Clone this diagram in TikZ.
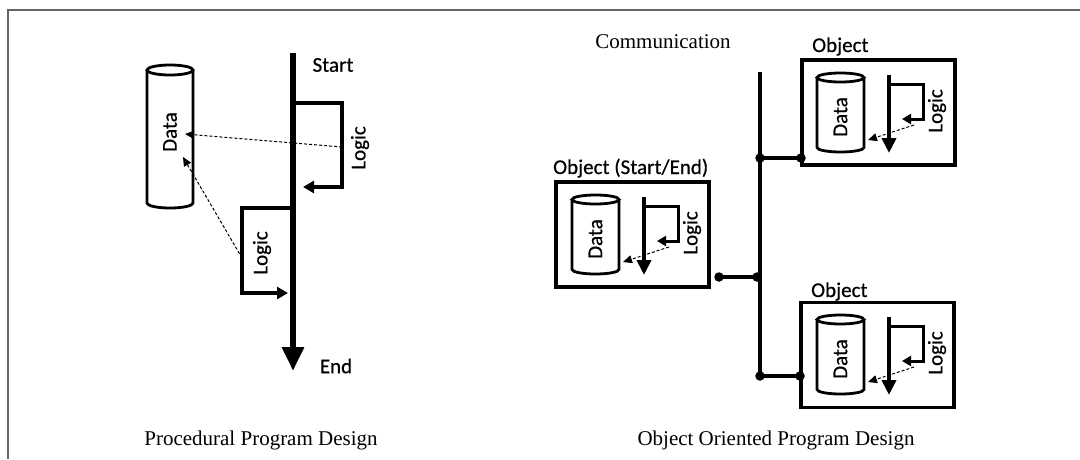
\documentclass[tikz,border=0pt]{standalone}
\usepackage{fontspec}
\setmainfont{Liberation Serif}
\newfontfamily\lblfont[FakeBold=0.6]{Carlito}
\usetikzlibrary{arrows.meta,calc}

\tikzset{
  lbl/.style={font=\lblfont\fontsize{21}{24}\selectfont, inner sep=0pt},
  vlbl/.style={lbl, rotate=90},
  captxt/.style={font=\fontsize{21}{24}\selectfont, inner sep=0pt, anchor=base},
  spine/.style={line width=6.5pt, -{Triangle[length=24pt,width=21pt]}},
  loopline/.style={line width=3.8pt, -{Triangle[length=11pt,width=12pt]}},
  minispine/.style={line width=4.5pt, -{Triangle[length=15pt,width=14pt]}},
  miniloop/.style={line width=3pt, -{Triangle[length=9pt,width=10pt]}},
  cylline/.style={line width=2.8pt},
  dataflow/.style={line width=1pt, dash pattern=on 3pt off 2pt, -{Triangle[length=9pt,width=8pt]}},
  objbox/.style={draw, line width=3.5pt, minimum width=153pt, minimum height=105pt, inner sep=0pt},
  busline/.style={line width=3.5pt},
  joint/.style={circle, fill, inner sep=0pt, minimum size=9.5pt},
  frameline/.style={draw=black!60, line width=1.2pt}
}

% drum: centre x, top-ellipse centre y, bottom-arc centre y, x radius, y radius
\newcommand\drawdrum[5]{%
  \draw[cylline] (#1,#2) ellipse[x radius=#4pt, y radius=#5pt];
  \draw[cylline] ({#1-#4},#2) -- ({#1-#4},#3)
    arc[start angle=180, end angle=360, x radius=#4pt, y radius=#5pt]
    -- ({#1+#4},#2);
}

% contents of an object box, coordinates relative to its top-left corner
\newcommand\objinner[1]{%
  \drawdrum{38.5}{17.5}{87.5}{23.5}{4.5}
  \node[vlbl] (#1data) at (38.5,57) {Data};
  \coordinate (#1top) at (87,15);
  \coordinate (#1bot) at (87,93);
  \draw[minispine] (#1top) -- (#1bot);
  \coordinate (#1ls) at (87,24);
  \coordinate (#1le) at (100,59);
  \draw[miniloop] (#1ls) -- (121,24) -- (121,59) -- (#1le);
  \node[vlbl] (#1logic) at (135,51) {Logic};
  \coordinate (#1out) at (112,65);
  \coordinate (#1in) at (66,80);
  \draw[dataflow] (#1out) -- (#1in);
}

\begin{document}
\begin{tikzpicture}[x=1pt,y=-1pt]
\useasboundingbox (0,0) rectangle (1080,459);

% frame
\draw[frameline] (8,459) -- (8,10) -- (1080,10);

% ---------- procedural design ----------
\drawdrum{170}{70}{203}{23}{5}
\node[vlbl] (pdata) at (170,132) {Data};

\coordinate (pstart) at (293,53);
\coordinate (pend) at (293,371);
\draw[spine] (pstart) -- (pend);
\node[lbl] (tstart) at (333,65) {Start};
\node[lbl] (tend) at (336,366) {End};

\coordinate (u1) at (293,103);
\coordinate (u2) at (303,187);
\draw[loopline] (u1) -- (342,103) -- (342,187) -- (u2);
\node[vlbl] (plogic1) at (360,148) {Logic};

\coordinate (d1) at (293,208);
\coordinate (d2) at (288,293);
\draw[loopline] (d1) -- (242,208) -- (242,293) -- (d2);
\node[vlbl] (plogic2) at (262,253) {Logic};

\coordinate (f1s) at (342,147);
\coordinate (f1e) at (185,134);
\draw[dataflow] (f1s) -- (f1e);
\coordinate (f2s) at (242,258);
\coordinate (f2e) at (183,157);
\draw[dataflow] (f2s) -- (f2e);

\node[captxt] (cap1) at (261,445) {Procedural Program Design};

% ---------- object oriented design ----------
\node[captxt] (comm) at (663,48) {Communication};

\coordinate (bustop) at (760,72);
\coordinate (busbot) at (760,376);
\draw[busline] (bustop) -- (busbot);

% object (start/end)
\node[objbox] (objSE) at (632.5,234.5) {};
\node[lbl, anchor=base west] (lblSE) at (553,174) {Object (Start/End)};
\begin{scope}[shift={(557,182)}]
  \objinner{se}
\end{scope}

% upper object
\node[objbox] (objA) at (878.5,112.5) {};
\node[lbl, anchor=base west] (lblA) at (812,52) {Object};
\begin{scope}[shift={(802,60)}]
  \objinner{a}
\end{scope}

% lower object
\node[objbox] (objB) at (877.5,355) {};
\node[lbl, anchor=base west] (lblB) at (811,297) {Object};
\begin{scope}[shift={(802,302)}]
  \objinner{b}
\end{scope}

% links to the bus
\coordinate (jA1) at (760,158);
\coordinate (jA2) at (801,158);
\draw[busline] (jA1) -- (jA2);
\node[joint] at (jA1) {};
\node[joint] at (jA2) {};

\coordinate (jS1) at (719,277);
\coordinate (jS2) at (757,277);
\draw[busline] (jS1) -- (jS2);
\node[joint] at (jS1) {};
\node[joint] at (jS2) {};

\coordinate (jB1) at (760,376);
\coordinate (jB2) at (800,376);
\draw[busline] (jB1) -- (jB2);
\node[joint] at (jB1) {};
\node[joint] at (jB2) {};

\node[captxt] (cap2) at (776,445) {Object Oriented Program Design};
\end{tikzpicture}
\end{document}
